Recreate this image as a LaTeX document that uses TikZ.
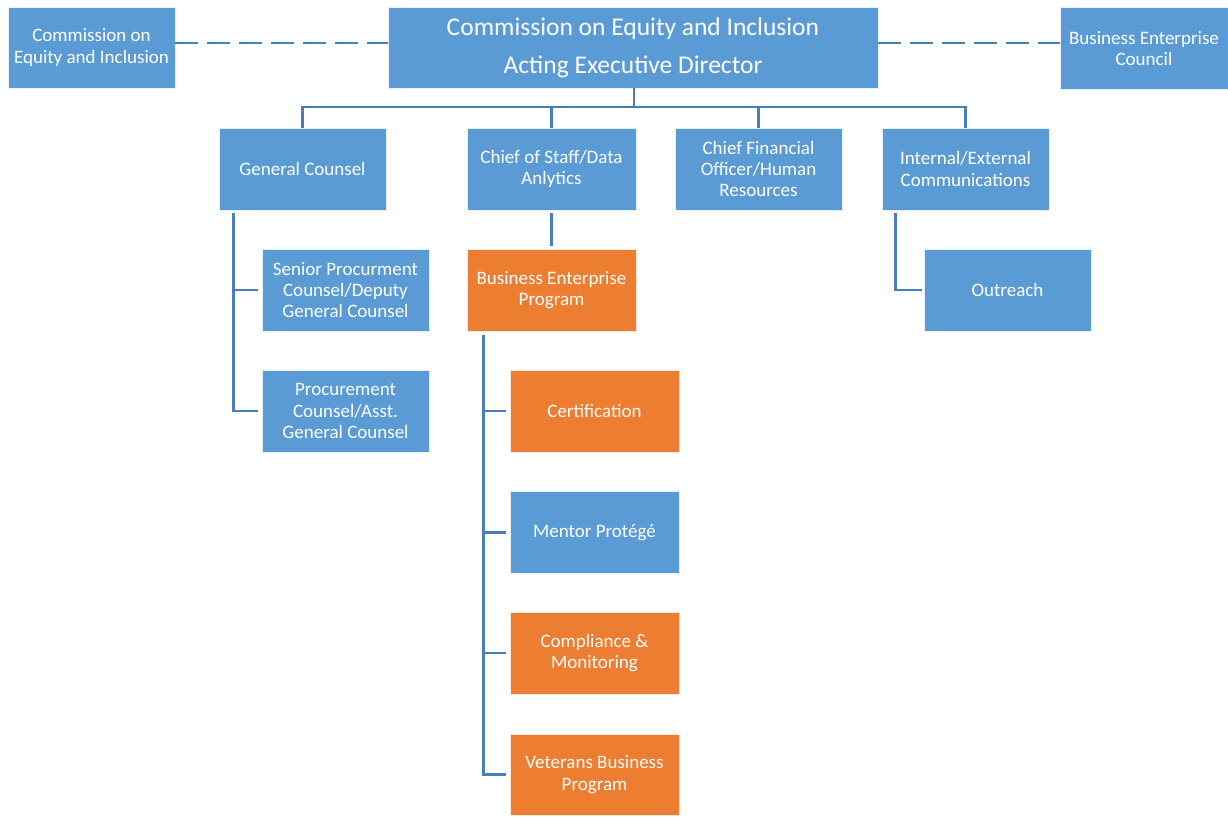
\documentclass[tikz,border=0pt]{standalone}
\usepackage{fontspec}
\setmainfont{Carlito}
\definecolor{boxblue}{RGB}{91,155,213}
\definecolor{boxorange}{RGB}{237,125,49}
\definecolor{linkblue}{RGB}{74,126,187}
\begin{document}
\begin{tikzpicture}[x=1pt,y=-1pt,
  orgbox/.style={draw=white!85!boxblue, line width=0.8pt, fill=boxblue, text=white, align=center,
    minimum width=167pt, minimum height=82pt, inner sep=2pt,
    font=\fontsize{19}{21.3}\selectfont},
  orgorange/.style={orgbox, fill=boxorange, draw=white!85!boxorange},
  link/.style={draw=linkblue, line width=2.6pt},
  dashlink/.style={link, dash pattern=on 23pt off 9pt}]
\useasboundingbox (0,0) rectangle (1228,816);
% top row
\node[orgbox, minimum width=167pt, minimum height=81pt] (cei) at (91.5,47.5) {Commission on\\Equity and Inclusion};
\node[orgbox, minimum width=490pt, minimum height=81pt, font=\fontsize{25.5}{38}\selectfont] (ed) at (633,47.5) {Commission on Equity and Inclusion\\Acting Executive Director};
\node[orgbox, minimum width=168pt, minimum height=82pt] (bec) at (1144,48.5) {Business Enterprise\\Council};
% second row
\node[orgbox] (gc) at (302.5,169) {General Counsel};
\node[orgbox, minimum width=169pt] (cos) at (551.5,169) {Chief of Staff/Data\\Anlytics};
\node[orgbox] (cfo) at (758.5,169) {Chief Financial\\Officer/Human\\Resources};
\node[orgbox] (iec) at (965.5,169) {Internal/External\\Communications};
% third level
\node[orgbox] (spc) at (345.5,290) {Senior Procurment\\Counsel/Deputy\\General Counsel};
\node[orgbox] (pc) at (345.5,411) {Procurement\\Counsel/Asst.\\General Counsel};
\node[orgorange, minimum width=169pt] (bep) at (551.5,290) {Business Enterprise\\Program};
\node[orgbox] (out) at (1007.5,290) {Outreach};
% BEP children
\node[orgorange, minimum width=169pt] (cert) at (594.5,411) {Certification};
\node[orgbox, minimum width=169pt] (mp) at (594.5,532.5) {Mentor Protégé};
\node[orgorange, minimum width=169pt] (cm) at (594.5,653) {Compliance \&\\Monitoring};
\node[orgorange, minimum width=169pt, minimum height=81pt] (vbp) at (594.5,774.5) {Veterans Business\\Program};
% dashed links
\draw[dashlink] ([yshift=4.5pt]cei.east) -- ([yshift=4.5pt]ed.west);
\draw[dashlink] ([yshift=4.5pt]ed.east) -- ([yshift=5.5pt]bec.west);
% main tree
\coordinate (bus) at (634,107);
\draw[link] ([xshift=1pt]ed.south) -- (bus);
\draw[link] (gc.north) |- (bus);
\draw[link] (cos.north) |- (bus);
\draw[link] (cfo.north) |- (bus);
\draw[link] (iec.north) |- (bus);
% general counsel subtree
\draw[link] ([xshift=15pt,yshift=-3pt]gc.south west) |- ([xshift=-4pt]spc.west);
\draw[link] ([xshift=15pt,yshift=-3pt]gc.south west) |- ([xshift=-4pt]pc.west);
% chief of staff to BEP
\draw[link] ([yshift=-3pt]cos.south) -- ([yshift=3pt]bep.north);
% BEP subtree
\draw[link] ([xshift=17pt,yshift=-4pt]bep.south west) |- ([xshift=-4pt]cert.west);
\draw[link] ([xshift=17pt,yshift=-4pt]bep.south west) |- ([xshift=-4pt]mp.west);
\draw[link] ([xshift=17pt,yshift=-4pt]bep.south west) |- ([xshift=-4pt]cm.west);
\draw[link] ([xshift=17pt,yshift=-4pt]bep.south west) |- ([xshift=-4pt]vbp.west);
% communications subtree
\draw[link] ([xshift=14pt,yshift=-3pt]iec.south west) |- ([xshift=-2pt]out.west);
\end{tikzpicture}
\end{document}
